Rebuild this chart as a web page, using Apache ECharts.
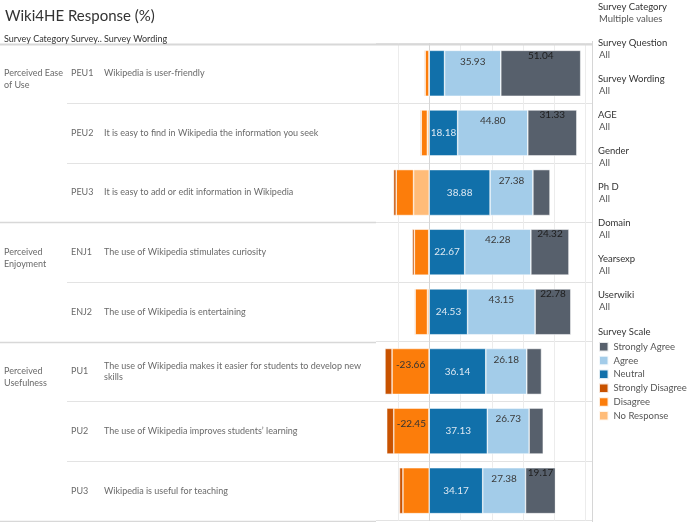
<!DOCTYPE html>
<html><head><meta charset="utf-8">
<script src="https://cdn.jsdelivr.net/npm/echarts@6/dist/echarts.min.js"></script>
<style>html,body{margin:0;padding:0;background:#fff}#c{width:700px;height:522px}</style>
</head><body><div id="c"></div>
<script>
// ---- data ----
const codes = ['PEU1','PEU2','PEU3','ENJ1','ENJ2','PU1','PU2','PU3'];
const categoryOfRow = ['Perceived Ease\nof Use','Perceived Ease\nof Use','Perceived Ease\nof Use',
  'Perceived\nEnjoyment','Perceived\nEnjoyment',
  'Perceived\nUsefulness','Perceived\nUsefulness','Perceived\nUsefulness'];
const wording = [
  'Wikipedia is user-friendly',
  'It is easy to find in Wikipedia the information you seek',
  'It is easy to add or edit information in Wikipedia',
  'The use of Wikipedia stimulates curiosity',
  'The use of Wikipedia is entertaining',
  'The use of Wikipedia makes it easier for students to develop new\nskills',
  'The use of Wikipedia improves students\u2019 learning',
  'Wikipedia is useful for teaching'
];
const neutral          = [9.80, 18.18, 38.88, 22.67, 24.53, 36.14, 37.13, 34.17];
const agree            = [35.93, 44.80, 27.38, 42.28, 43.15, 26.18, 26.73, 27.38];
const stronglyAgree    = [51.04, 31.33, 10.90, 24.32, 22.78, 9.40, 9.00, 19.17];
const noResponse       = [-0.2, -1.2, -10.0, -0.3, -1.1, -0.1, -0.2, 0];
const disagree         = [-2.4, -3.9, -11.1, -9.2, -7.9, -23.66, -22.45, -16.8];
const stronglyDisagree = [-0.6, -0.6, -1.7, -1.3, -0.5, -4.5, -4.5, -2.2];
const gridTicks = [-20, 0, 20, 40, 60, 80, 100];
const legendOrder = ['Strongly Agree','Agree','Neutral','Strongly Disagree','Disagree','No Response'];
const filters = [
  ['Survey Category','Multiple values'],['Survey Question','All'],['Survey Wording','All'],
  ['AGE','All'],['Gender','All'],['Ph D','All'],['Domain','All'],['Yearsexp','All'],['Userwiki','All']
];
const headers = [['Survey Category',4],['Survey..',71],['Survey Wording',104]];

// ---- chart ----
const FONT = 'Lato';
const chart = echarts.init(document.getElementById('c'), null, {renderer:'canvas'});
const GRID = {left:376, top:43.5, width:216, height:477, outerBoundsMode:'none', containLabel:false};
const fmt = p => Math.abs(p.value) >= 18 ? p.value.toFixed(2) : '';

function barSeries(name, data, color, label) {
  return {
    name, type:'bar', stack:'s', data, z:3, xAxisIndex:0, yAxisIndex:0,
    barWidth:'77%',
    itemStyle:{color, borderColor:'rgba(255,255,255,0.85)', borderWidth:0.6},
    label: Object.assign({show:true, formatter:fmt, fontSize:10, fontFamily:FONT}, label),
    emphasis:{disabled:true}
  };
}

const option = {
  animation:false,
  textStyle:{fontFamily:FONT},
  title:{text:'Wiki4HE Response (%)', left:0, top:4,
    textStyle:{fontSize:15, fontWeight:'normal', color:'#333', fontFamily:FONT}},
  legend:{
    data:legendOrder, orient:'vertical', left:593, top:336,
    itemWidth:9.5, itemHeight:9.5, itemGap:2.3, icon:'rect',
    textStyle:{fontSize:9.5, color:'#555', fontFamily:FONT, lineHeight:10},
    selectedMode:false
  },
  grid:GRID,
  xAxis:{type:'value', min:-34, max:104, axisLabel:{show:false}, axisLine:{show:false},
    axisTick:{show:false}, splitLine:{show:false}},
  yAxis:[
    {type:'category', position:'left', data:codes, inverse:true,
      axisLine:{show:true, lineStyle:{color:'#d6d6d6', width:1}},
      axisTick:{show:false}, splitLine:{show:true, lineStyle:{color:'#e3e3e3'}},
      axisLabel:{interval:0, align:'left', margin:272, fontSize:9, color:'#6a6a6a', lineHeight:11.6,
        formatter:(v, i) => wording[i]}},
    {type:'category', position:'left', data:codes, inverse:true, axisLine:{show:false}, axisTick:{show:false},
      axisLabel:{interval:0, align:'left', margin:305, fontSize:9, color:'#6a6a6a'}},
    {type:'category', position:'left', data:codes, inverse:true, axisLine:{show:false}, axisTick:{show:false},
      axisLabel:{interval:0, align:'left', margin:372, fontSize:9, color:'#6a6a6a', lineHeight:11.8,
        formatter:(v, i) => (i === 0 || categoryOfRow[i] !== categoryOfRow[i-1]) ? '\n' + categoryOfRow[i] : ''}}
  ],
  series:[
    {type:'line', data:[], z:0, silent:true, xAxisIndex:0, yAxisIndex:0,
      markLine:{silent:true, z:0, zlevel:0, symbol:'none', label:{show:false},
        data:gridTicks.map(v => ({xAxis:v, lineStyle:{color: v===0 ? '#c4c4c4' : '#ececec', type: v===0 ? [2,2] : 'solid', width:1}}))}},
    barSeries('Neutral', neutral, '#1170aa', {position:'inside', color:'#dde8f2'}),
    barSeries('Agree', agree, '#a3cce9', {position:'insideTop', distance:6, color:'#3a3a3a'}),
    barSeries('Strongly Agree', stronglyAgree, '#57606c', {position:'insideTop', distance:0, color:'#1e1e1e'}),
    barSeries('No Response', noResponse, '#ffbc79', {position:'insideTop', distance:11, color:'#333'}),
    barSeries('Disagree', disagree, '#fc7d0b', {position:'insideTop', distance:11, color:'#333'}),
    barSeries('Strongly Disagree', stronglyDisagree, '#c85200', {position:'insideTop', distance:11, color:'#333'})
  ]
};
chart.setOption(option);

// table lines & texts (positions from the axis scale)
const c0 = chart.convertToPixel({yAxisIndex:0}, codes[0]);
const c1 = chart.convertToPixel({yAxisIndex:0}, codes[1]);
const band = c1 - c0;
const right = GRID.left + GRID.width;
const g = [];
for (let i = 0; i <= codes.length; i++) {
  const y = Math.round(c0 - band/2 + i*band) + 0.5;
  const full = (i === 0 || i === codes.length || categoryOfRow[i] !== categoryOfRow[i-1]);
  g.push({type:'line', shape:{x1: full ? 0 : 67, y1:y, x2:GRID.left, y2:y},
    style:{stroke: full ? '#d8d8d8' : '#e3e3e3', lineWidth: i === 0 ? 2 : (full ? 1.5 : 1)}, silent:true});
  if (i === 0) g.push({type:'line', shape:{x1:GRID.left, y1:y, x2:right, y2:y},
    style:{stroke:'#d8d8d8', lineWidth:2}, silent:true});
}
const top0 = Math.round(c0 - band/2);
g.push({type:'line', shape:{x1:right+0.5, y1:top0-3, x2:right+0.5, y2:522}, style:{stroke:'#d6d6d6', lineWidth:1}, silent:true});
headers.forEach(([t, x]) => g.push({type:'text', x, y:39, style:{text:t, fontSize:9, fill:'#333', fontFamily:FONT, verticalAlign:'middle'}}));
filters.forEach(([h, v], i) => {
  g.push({type:'text', x:598, y:7 + 36*i, style:{text:h, fontSize:9.5, fill:'#333', fontFamily:FONT, verticalAlign:'middle'}});
  g.push({type:'text', x:599, y:18.5 + 36*i, style:{text:v, fontSize:9.5, fill:'#555', fontFamily:FONT, verticalAlign:'middle'}});
});
g.push({type:'text', x:598, y:332, style:{text:'Survey Scale', fontSize:9.5, fill:'#333', fontFamily:FONT, verticalAlign:'middle'}});
chart.setOption({graphic:g});
</script></body></html>
